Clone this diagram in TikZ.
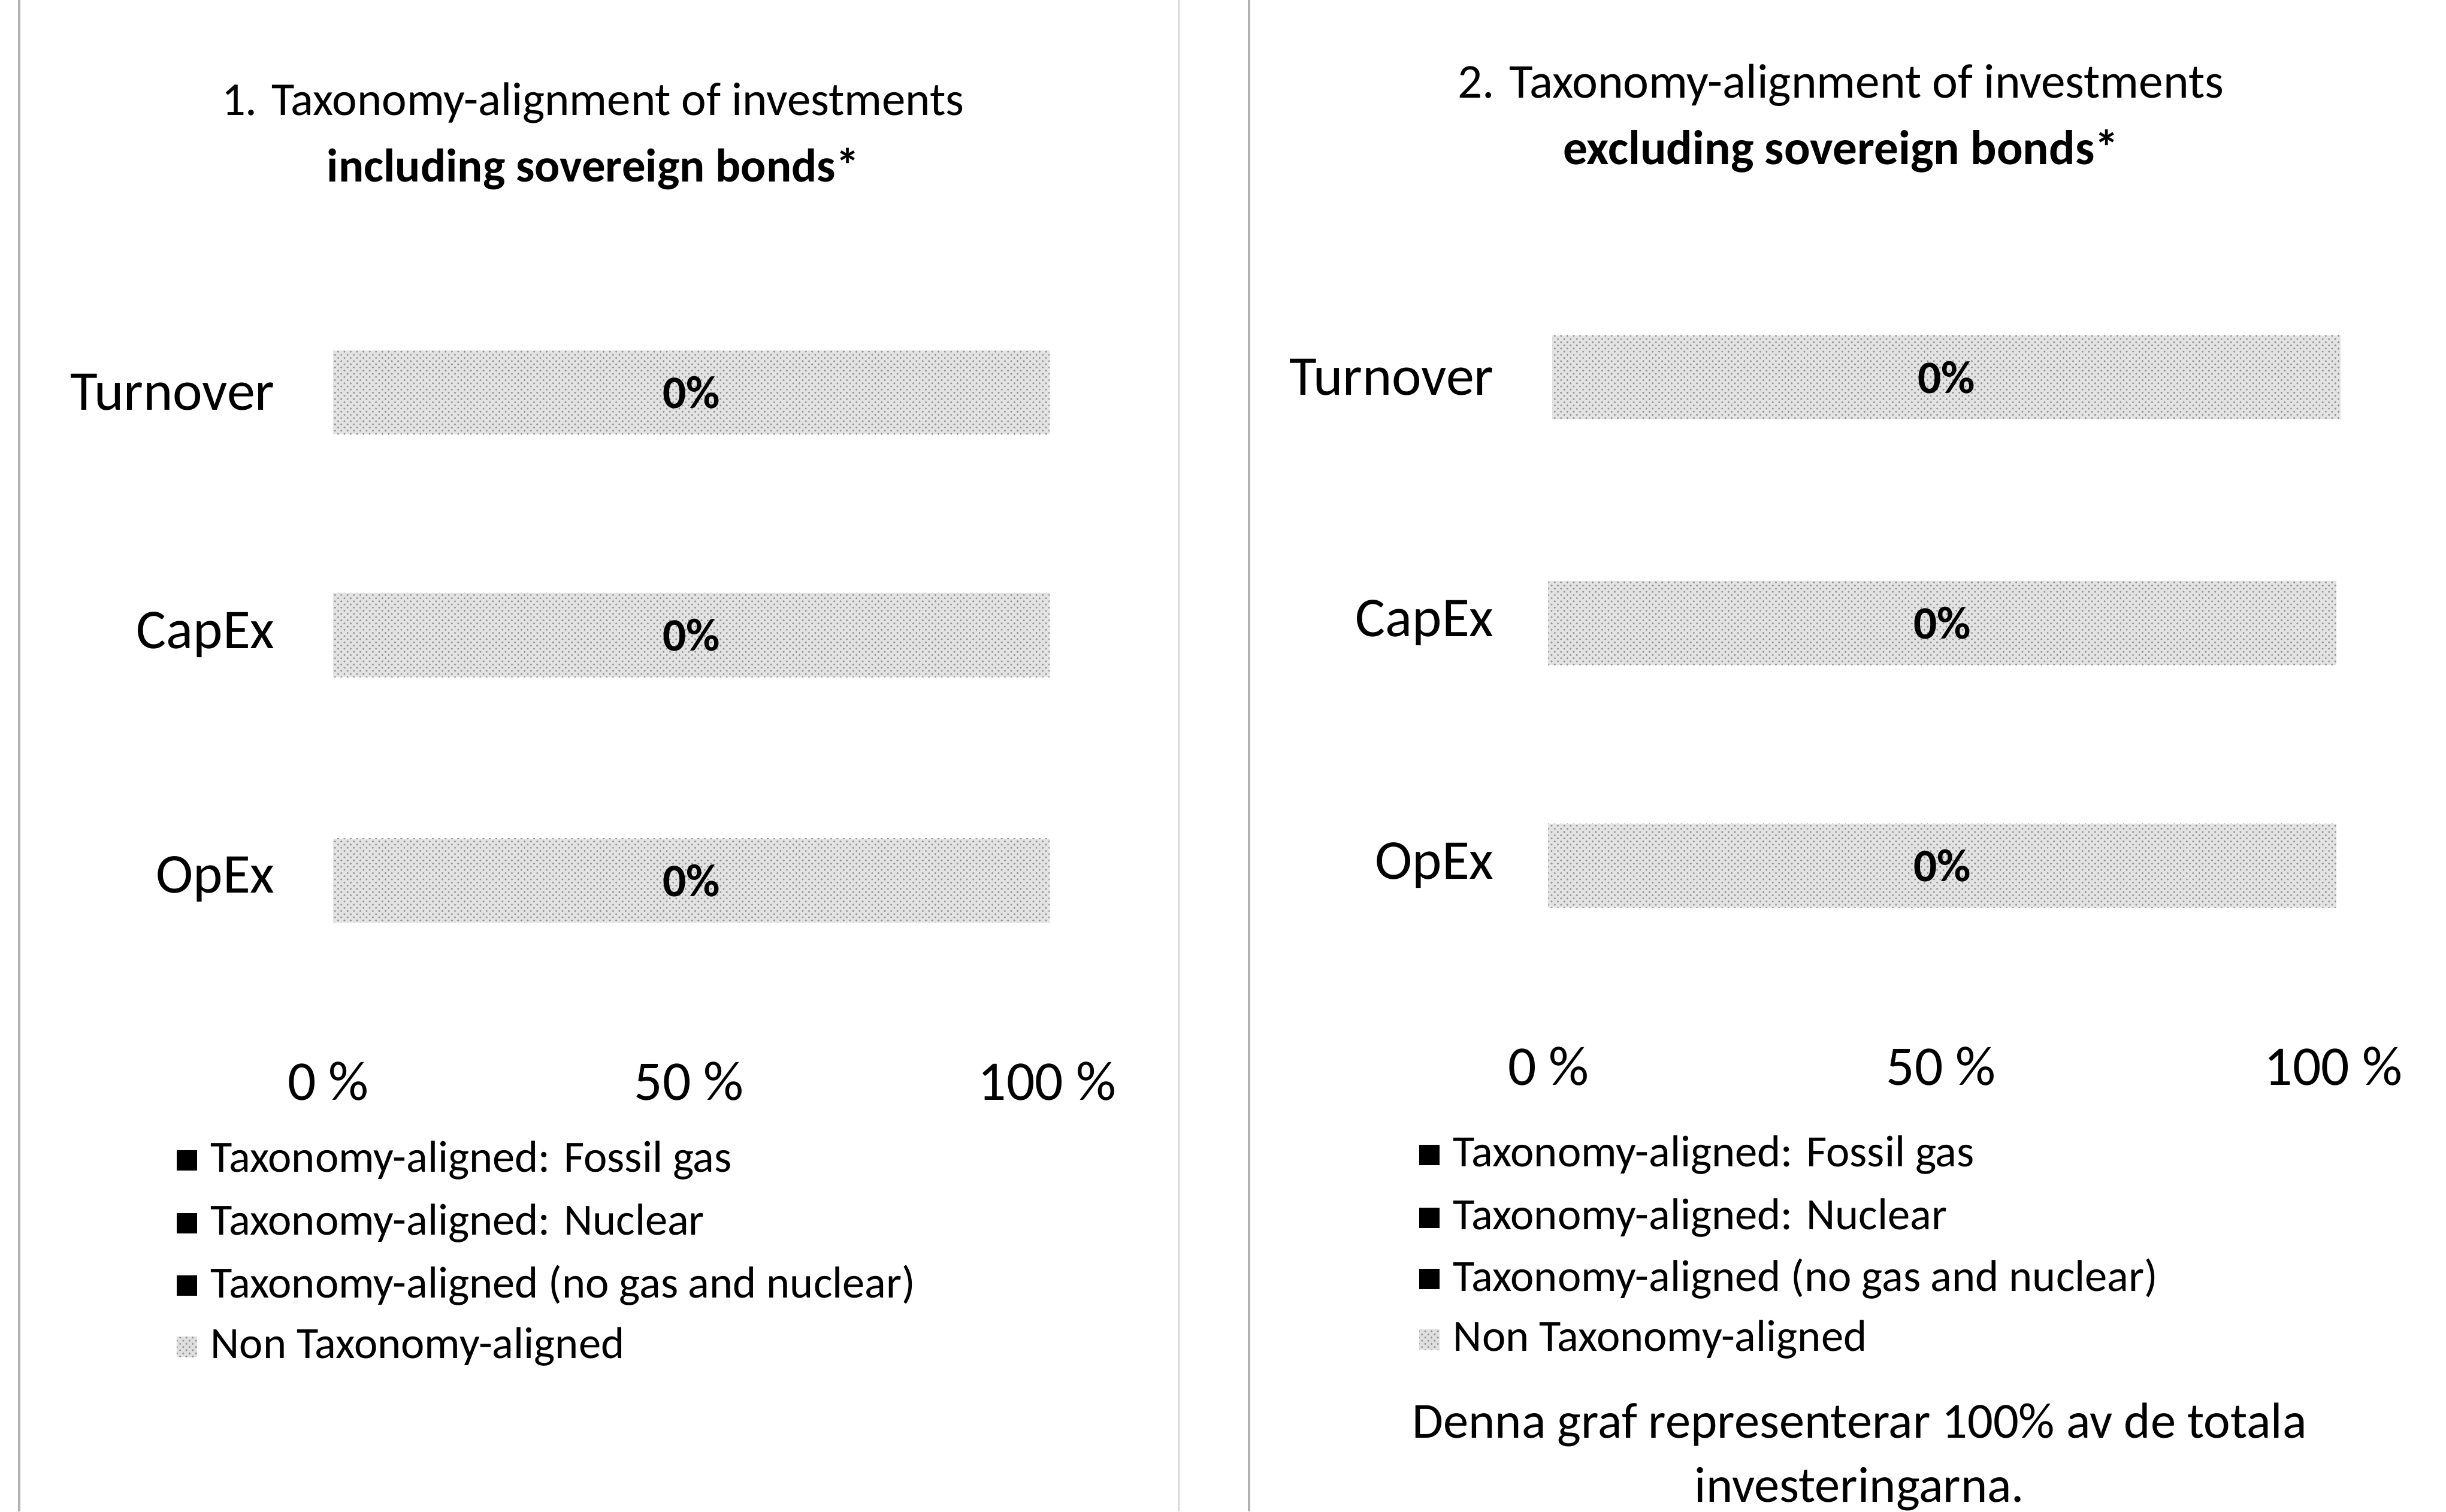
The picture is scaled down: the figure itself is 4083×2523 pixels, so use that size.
\documentclass[tikz,border=0pt]{standalone}
\usepackage{fontspec}
\setmainfont{Carlito}
\usetikzlibrary{patterns,positioning,calc}

\begin{document}
\begin{tikzpicture}[x=0.01cm, y=-0.01cm, thick,
    title/.style={font=\fontsize{22.4}{27}\selectfont, inner sep=0pt},
    cat/.style={font=\fontsize{26.7}{32}\selectfont, anchor=east, inner sep=0pt},
    tick/.style={font=\fontsize{26.6}{32}\selectfont, inner sep=0pt},
    bar/.style={anchor=west, minimum height=1.4cm, inner sep=0pt, fill=gray!22,
        postaction={pattern=crosshatch dots, pattern color=gray!85},
        font=\fontsize{22}{26}\selectfont\bfseries},
    keybox/.style={minimum size=0.34cm, inner sep=0pt, fill=black},
    keynon/.style={minimum size=0.34cm, inner sep=0pt, fill=gray!25,
        postaction={pattern=crosshatch dots, pattern color=gray!85}},
    keytext/.style={font=\fontsize{21.2}{25}\selectfont, inner sep=0pt, anchor=west}]
    % --- Definitions ---
    \def\barL{11.95cm}  % left bars
    \def\barR{13.15cm}  % right bars

    % --- Frame ---
    \useasboundingbox (0,0) rectangle (4083,2523);
    \draw[gray!60, line width=1.2pt] (32,0) -- (32,2523);
    \draw[gray!40, line width=0.8pt] (1968,0) -- (1968,2523);
    \draw[gray!60, line width=1.2pt] (2085,0) -- (2085,2523);

    % --- Panel 1 ---
    \node[title] (t1a) at (990,172) {1. Taxonomy-alignment of investments};
    \node[title, font=\fontsize{22.4}{27}\selectfont\bfseries] (t1b) at (990,282) {including sovereign bonds*};

    \node[cat] (l-turn) at (460,655) {Turnover};
    \node[cat] (l-capex) at (460,1060) {CapEx};
    \node[cat] (l-opex) at (460,1468) {OpEx};

    \node[bar, minimum width=\barL] (lb-turn) at (555,655) {0\%};
    \node[bar, minimum width=\barL] (lb-capex) at (555,1060) {0\%};
    \node[bar, minimum width=\barL] (lb-opex) at (555,1470) {0\%};

    \node[tick] (lx0) at (548,1805) {0 \%};
    \node[tick] (lx50) at (1150,1805) {50 \%};
    \node[tick] (lx100) at (1748,1805) {100 \%};

    \node[keybox] (lk1) at (312,1937) {};
    \node[keybox] (lk2) at (312,2042) {};
    \node[keybox] (lk3) at (312,2146) {};
    \node[keynon] (lk4) at (312,2248) {};
    \node[keytext, right=0.2cm of lk1] {Taxonomy-aligned: Fossil gas};
    \node[keytext, right=0.2cm of lk2] {Taxonomy-aligned: Nuclear};
    \node[keytext, right=0.2cm of lk3] {Taxonomy-aligned (no gas and nuclear)};
    \node[keytext, right=0.2cm of lk4] {Non Taxonomy-aligned};

    % --- Panel 2 ---
    \node[title, font=\fontsize{23.1}{28}\selectfont] (t2a) at (3073,142) {2. Taxonomy-alignment of investments};
    \node[title, font=\fontsize{23.1}{28}\selectfont\bfseries] (t2b) at (3073,252) {excluding sovereign bonds*};

    \node[cat] (r-turn) at (2495,630) {Turnover};
    \node[cat] (r-capex) at (2495,1040) {CapEx};
    \node[cat] (r-opex) at (2495,1445) {OpEx};

    \node[bar, minimum width=\barR] (rb-turn) at (2590,630) {0\%};
    \node[bar, minimum width=\barR] (rb-capex) at (2583,1040) {0\%};
    \node[bar, minimum width=\barR] (rb-opex) at (2583,1445) {0\%};

    \node[tick] (rx0) at (2585,1780) {0 \%};
    \node[tick] (rx50) at (3240,1780) {50 \%};
    \node[tick] (rx100) at (3895,1780) {100 \%};

    \node[keybox] (rk1) at (2386,1928) {};
    \node[keybox] (rk2) at (2386,2033) {};
    \node[keybox] (rk3) at (2386,2135) {};
    \node[keynon] (rk4) at (2386,2236) {};
    \node[keytext, right=0.2cm of rk1] {Taxonomy-aligned: Fossil gas};
    \node[keytext, right=0.2cm of rk2] {Taxonomy-aligned: Nuclear};
    \node[keytext, right=0.2cm of rk3] {Taxonomy-aligned (no gas and nuclear)};
    \node[keytext, right=0.2cm of rk4] {Non Taxonomy-aligned};

    % footnote under legend
    \node[align=center, inner sep=0pt, font=\fontsize{24}{30.5}\selectfont] (note) at (3104,2432)
        {Denna graf representerar 100\% av de totala\\investeringarna.};
\end{tikzpicture}
\end{document}
